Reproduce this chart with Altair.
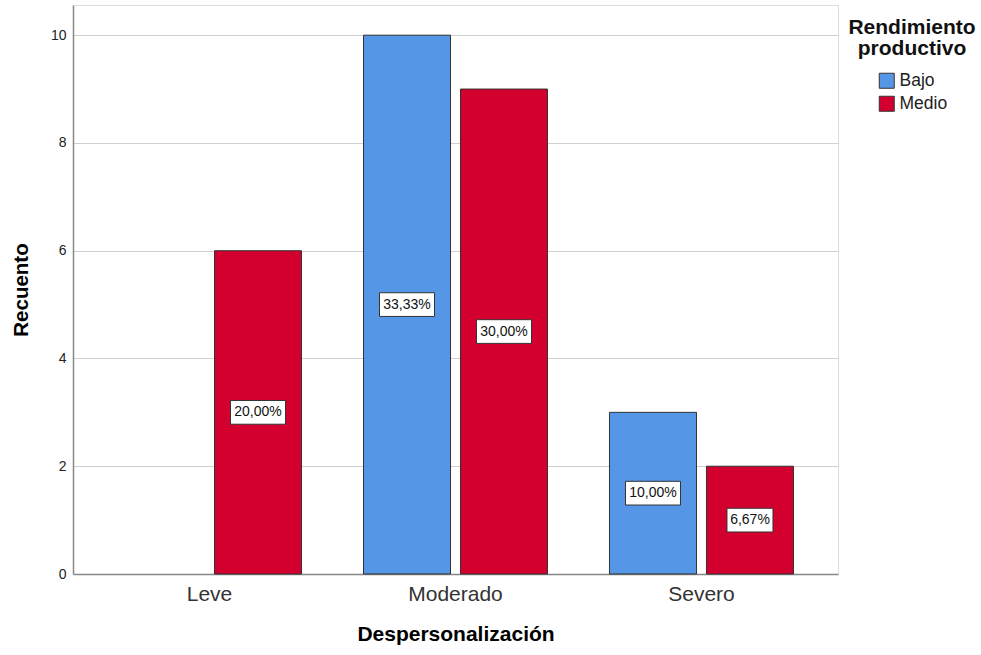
import altair as alt
import pandas as pd

categorias = ["Leve", "Moderado", "Severo"]
grupos = ["Bajo", "Medio"]
bajo = [0, 10, 3]
medio = [6, 9, 2]
pct_bajo = ["", "33,33%", "10,00%"]
pct_medio = ["20,00%", "30,00%", "6,67%"]
colores = ["#5596E6", "#D3002F"]

rows = []
for i, c in enumerate(categorias):
    rows.append({"cat": c, "grupo": "Bajo", "n": bajo[i], "pct": pct_bajo[i]})
    rows.append({"cat": c, "grupo": "Medio", "n": medio[i], "pct": pct_medio[i]})
df = pd.DataFrame(rows)

FONT = "Liberation Sans"

xenc = alt.X("cat:N", sort=categorias, scale=alt.Scale(paddingInner=0.252, paddingOuter=0.181),
             axis=alt.Axis(title="Despersonalización", labelAngle=0, ticks=False, labelFontSize=21,
                           labelColor="#333333", labelPadding=9, titleFontSize=21, titleFontWeight="bold",
                           titleColor="#000000", titlePadding=19, domainColor="#888888", domainWidth=1.5))
xoff = alt.XOffset("grupo:N", sort=grupos, scale=alt.Scale(paddingInner=0.103, paddingOuter=0))
color = alt.Color("grupo:N", scale=alt.Scale(domain=grupos, range=colores),
                  legend=alt.Legend(title=None, orient="none", legendX=805, legendY=67,
                                    symbolType="square", symbolSize=225, symbolStrokeColor="#333333",
                                    symbolStrokeWidth=1, labelFontSize=17.5, labelColor="#222222",
                                    labelOffset=4, rowPadding=3, labelFont=FONT))

base = alt.Chart(df).transform_filter("datum.n > 0")

bars = base.mark_bar(stroke="#333333", strokeWidth=1).encode(
    x=xenc, xOffset=xoff,
    y=alt.Y("n:Q", scale=alt.Scale(domain=[0, 10.56], nice=False),
            axis=alt.Axis(title="Recuento", values=[0, 2, 4, 6, 8, 10], format="d", ticks=False, grid=True,
                          gridColor="#CFCFCF", gridWidth=1.2, domainColor="#888888", domainWidth=1.5,
                          labelFontSize=14, labelColor="#222222", labelPadding=7, titleFontSize=20.5,
                          titleFontWeight="bold", titleColor="#000000", titlePadding=19)),
    color=color,
)

lab = base.transform_calculate(mid="datum.n / 2", lo="datum.n / 2 - 0.22", hi="datum.n / 2 + 0.22")

box6 = lab.transform_filter("length(datum.pct) == 6").mark_bar(
    width=55, fill="white", stroke="#333333", strokeWidth=1).encode(
    x=alt.X("cat:N", sort=categorias), xOffset=alt.XOffset("grupo:N", sort=grupos),
    y="lo:Q", y2="hi:Q")
box5 = lab.transform_filter("length(datum.pct) == 5").mark_bar(
    width=46, fill="white", stroke="#333333", strokeWidth=1).encode(
    x=alt.X("cat:N", sort=categorias), xOffset=alt.XOffset("grupo:N", sort=grupos),
    y="lo:Q", y2="hi:Q")
texts = lab.mark_text(fontSize=14, font=FONT, color="#111111", baseline="middle").encode(
    x=alt.X("cat:N", sort=categorias), xOffset=alt.XOffset("grupo:N", sort=grupos),
    y="mid:Q", text="pct:N")

legtitle = alt.Chart(pd.DataFrame({"t": [0]})).mark_text(
    text=["Rendimiento", "productivo"], fontSize=21, fontWeight="bold", font=FONT,
    color="#111111", lineHeight=21, baseline="middle", align="center").encode(
    x=alt.value(839), y=alt.value(23))

chart = alt.layer(bars, box6, box5, texts, legtitle).properties(
    width=765, height=569,
    autosize=alt.AutoSizeParams(type="none"),
    padding={"left": 73, "top": 5, "right": 143, "bottom": 81},
).configure_view(stroke=None).configure(font=FONT)

chart.save("out.html", embed_options={"renderer": "svg", "actions": False})
